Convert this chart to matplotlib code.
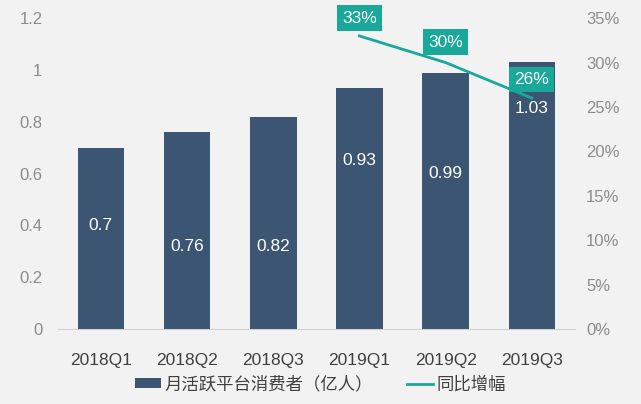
import matplotlib
matplotlib.use("Agg")
import matplotlib.pyplot as plt
from matplotlib.ticker import FuncFormatter

plt.rcParams['font.family'] = ['Liberation Sans', 'Noto Sans CJK SC', 'DejaVu Sans']

categories = ["2018Q1", "2018Q2", "2018Q3", "2019Q1", "2019Q2", "2019Q3"]
users = [0.70, 0.76, 0.82, 0.93, 0.99, 1.03]
user_labels = ["0.7", "0.76", "0.82", "0.93", "0.99", "1.03"]
growth_idx = [3, 4, 5]
growth = [0.33, 0.30, 0.26]
growth_labels = ["33%", "30%", "26%"]

bar_label_y = [0.40, 0.32, 0.32, 0.65, 0.60, 0.85]
growth_label_y = [0.350, 0.323, 0.281]

bg = "#f2f2f2"
bar_color = "#3b5573"
teal = "#1aa89a"

fig = plt.figure(figsize=(6.41, 4.04), dpi=100, facecolor=bg)
ax = fig.add_axes([0.09, 0.1856, 0.807, 0.7694], facecolor=bg)
x = list(range(len(categories)))
ax.bar(x, users, width=0.54, color=bar_color, zorder=2, label="月活跃平台消费者（亿人）")
ax.set_xlim(-0.5, 5.5)
ax.set_ylim(0, 1.2)
ax.set_yticks([0, 0.2, 0.4, 0.6, 0.8, 1.0, 1.2])
ax.yaxis.set_major_formatter(FuncFormatter(lambda v, p: f"{v:g}"))
ax.set_xticks(x)
ax.set_xticklabels(categories)
for s in ["top", "right", "left"]:
    ax.spines[s].set_visible(False)
ax.spines["bottom"].set_color("#d0d0d0")
ax.tick_params(axis="y", length=0, colors="#8c8c8c", labelsize=12, pad=11)
ax.tick_params(axis="x", length=0, colors="#404040", labelsize=12.5, pad=17)
for xi, ly, lab in zip(x, bar_label_y, user_labels):
    ax.text(xi, ly, lab, ha="center", va="center", color="white", fontsize=12.5, zorder=5)

ax2 = ax.twinx()
ax2.set_ylim(0, 0.35)
ax2.set_yticks([0, 0.05, 0.10, 0.15, 0.20, 0.25, 0.30, 0.35])
ax2.yaxis.set_major_formatter(FuncFormatter(lambda v, p: f"{round(v*100)}%"))
for s in ["top", "right", "left", "bottom"]:
    ax2.spines[s].set_visible(False)
ax2.tick_params(axis="y", length=0, colors="#8c8c8c", labelsize=12, pad=8)
ax2.plot(growth_idx, growth, color=teal, lw=2, zorder=3, label="同比增幅")
for xi, ly, lab in zip(growth_idx, growth_label_y, growth_labels):
    ax2.text(xi, ly, lab, ha="center", va="center", color="white", fontsize=12.5, zorder=6,
             bbox=dict(boxstyle="square,pad=0.3", fc=teal, ec="none"))

h1, l1 = ax.get_legend_handles_labels()
h2, l2 = ax2.get_legend_handles_labels()
leg = fig.legend(h1 + h2, l1 + l2, loc="center", bbox_to_anchor=(0.5, 0.05), ncol=2,
                 frameon=False, fontsize=12.5, handlelength=1.5, handleheight=0.5,
                 columnspacing=2.0, handletextpad=0.2)
for t in leg.get_texts():
    t.set_color("#404040")

fig.savefig("out.png", dpi=100, facecolor=bg)
